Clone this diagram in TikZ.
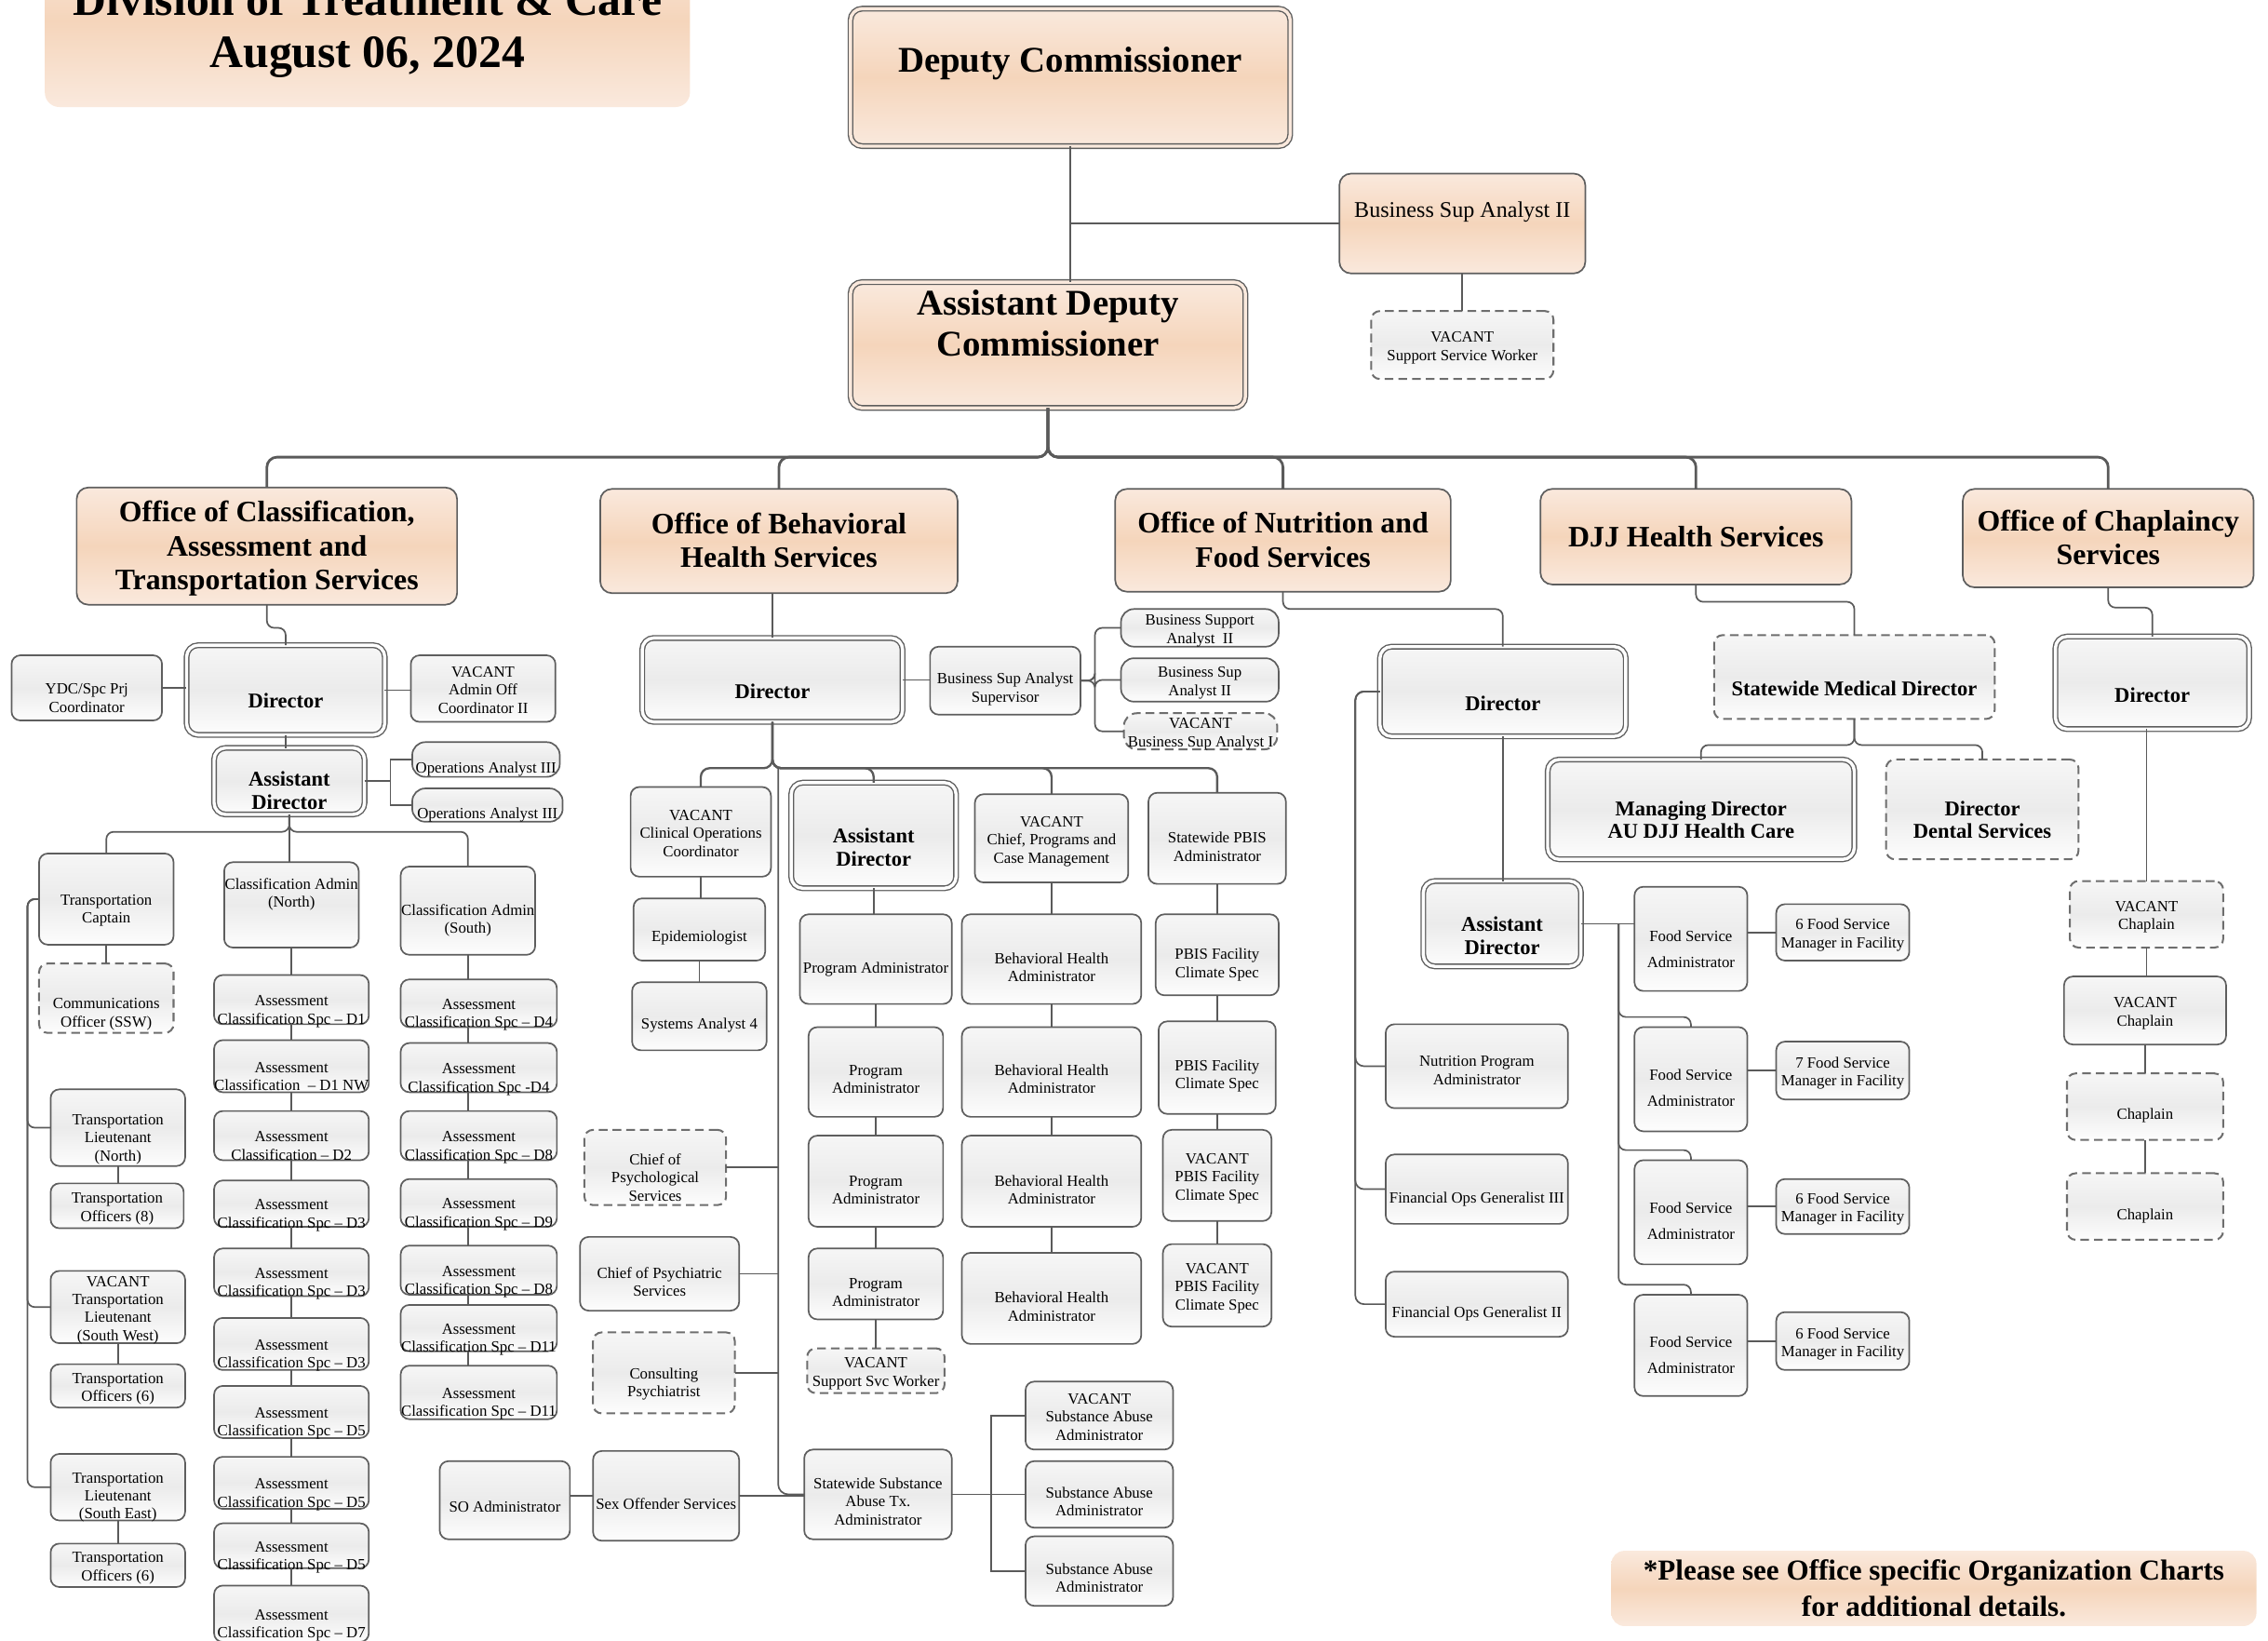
\documentclass[tikz,border=0pt]{standalone}
\usepackage{fontspec}
\setmainfont{Liberation Serif}
\usetikzlibrary{calc}
\definecolor{bordC}{HTML}{5E5E5E}
\definecolor{lineC}{HTML}{5A5A5A}
\definecolor{dashC}{HTML}{6E6E6E}
\definecolor{pkL}{HTML}{FAE9DD}
\definecolor{pkM}{HTML}{F5D5BB}
\definecolor{gT}{HTML}{F6F6F6}
\definecolor{gM}{HTML}{EBEBEB}
\definecolor{gB}{HTML}{FDFDFD}
\newcommand\tx[2]{\raisebox{\dimexpr -#1pt - 2pt\relax}[\height][\depth]{\makebox[0pt]{\begin{tabular}{@{}c@{}}#2\end{tabular}}}}
\newcommand\bx[8]{\node[#1, minimum width={(#5)-(#3)}, minimum height={(#6)-(#4)}] (#2) at ({((#3)+(#5))/2},{((#4)+(#6))/2}) {\tx{#7}{#8}};}
\tikzset{
 box/.style={draw=bordC, line width=1.1pt, rounded corners=6pt, inner sep=0pt, outer sep=0pt},
 gb/.style={box, top color=gT, bottom color=gB, middle color=gM},
 pb/.style={box, top color=pkL, bottom color=pkL, middle color=pkM},
 dbl/.style={double=white, double distance=2.2pt, line width=0.9pt, rounded corners=8pt},
 dsh/.style={draw=dashC, line width=1.3pt, dash pattern=on 6pt off 3.5pt},
 fa/.style={font=\fontsize{10.8}{12.5}\selectfont},
 ff/.style={font=\fontsize{10.8}{18}\selectfont},
 fb/.style={font=\bfseries\fontsize{14.5}{16}\selectfont},
 fo/.style={font=\bfseries\fontsize{20.5}{23.5}\selectfont},
 fdc/.style={font=\bfseries\fontsize{25}{28}\selectfont},
 ln/.style={draw=lineC, line width=1.1pt},
 bus/.style={draw=lineC, line width=1.8pt, rounded corners=7pt},
 bustwo/.style={draw=lineC, line width=1.5pt, rounded corners=6pt},
}
\begin{document}
\begin{tikzpicture}[x=1pt,y=-1pt]
\useasboundingbox (0,0) rectangle (1568,1134);
\clip (0,0) rectangle (1568,1134);
% ---------- top ----------
\bx{pb,draw=none,rounded corners=10pt,font=\bfseries\fontsize{32}{36}\selectfont}{title}{31}{-45}{477}{74}{5}{Division of Treatment \& Care\\August 06, 2024}
\bx{pb,dbl,double=pkL,fdc}{dc}{588}{6}{892}{101}{-11}{Deputy Commissioner}
\bx{pb,rounded corners=8pt,font=\fontsize{15.5}{18}\selectfont}{bsa}{926}{120}{1096}{189}{-10}{Business Sup Analyst II}
\bx{gb,dsh,fa}{vssw}{948}{215}{1074}{262}{0}{VACANT\\Support Service Worker}
\bx{pb,dbl,double=pkL,fdc}{adc}{588}{195}{861}{282}{-14}{Assistant Deputy\\Commissioner}
% ---------- offices ----------
\bx{pb,fo,rounded corners=8pt}{oc}{53}{337}{316}{418}{0}{Office of Classification,\\Assessment and\\Transportation Services}
\bx{pb,fo,rounded corners=8pt}{obh}{415}{338}{662}{410}{0}{Office of Behavioral\\Health Services}
\bx{pb,fo,rounded corners=8pt}{onf}{771}{338}{1003}{409}{0}{Office of Nutrition and\\Food Services}
\bx{pb,fo,rounded corners=8pt}{djj}{1065}{338}{1280}{404}{0}{DJJ Health Services}
\bx{pb,fo,rounded corners=8pt}{och}{1357}{338}{1558}{406}{0}{Office of Chaplaincy\\Services}
% ---------- classification ----------
\bx{gb,dbl,fb}{ocdir}{129}{446}{266}{508}{7}{Director}
\bx{gb,fa}{ydc}{8}{453}{112}{498}{6}{YDC/Spc Prj\\Coordinator}
\bx{gb,fa}{vaoc}{284}{453}{384}{499}{0}{VACANT\\Admin Off\\Coordinator II}
\bx{gb,dbl,fb}{ocad}{148}{517}{252}{563}{6}{Assistant\\Director}
\bx{gb,fa,rounded corners=9pt}{opa1}{285}{513}{387}{537}{5}{Operations Analyst III}
\bx{gb,fa,rounded corners=9pt}{opa2}{285}{545}{389}{568}{5}{Operations Analyst III}
\bx{gb,fa}{tc}{27}{590}{120}{653}{6}{Transportation\\Captain}
\bx{gb,dsh,fa}{co}{27}{666}{120}{714}{9}{Communications\\Officer (SSW)}
\bx{gb,fa}{can}{155}{596}{248}{655}{-9}{Classification Admin\\(North)}
\bx{gb,fa}{cas}{277}{599}{370}{660}{5}{Classification Admin\\(South)}
\bx{gb,fa}{a1}{148}{674}{255}{708}{6}{Assessment\\Classification Spc -- D1}
\bx{gb,fa}{a2}{148}{719}{255}{755}{6}{Assessment\\Classification ~-- D1 NW}
\bx{gb,fa}{a3}{148}{768}{255}{802}{6}{Assessment\\Classification -- D2}
\bx{gb,fa}{a4}{148}{816}{255}{848}{6}{Assessment\\Classification Spc -- D3}
\bx{gb,fa}{a5}{148}{863}{255}{896}{6}{Assessment\\Classification Spc -- D3}
\bx{gb,fa}{a6}{148}{911}{255}{947}{6}{Assessment\\Classification Spc -- D3}
\bx{gb,fa}{a7}{148}{958}{255}{994}{6}{Assessment\\Classification Spc -- D5}
\bx{gb,fa}{a8}{148}{1007}{255}{1043}{6}{Assessment\\Classification Spc -- D5}
\bx{gb,fa}{a9}{148}{1053}{255}{1084}{6}{Assessment\\Classification Spc -- D5}
\bx{gb,fa}{a10}{148}{1096}{255}{1135}{6}{Assessment\\Classification Spc -- D7}
\bx{gb,fa}{s1}{277}{677}{385}{710}{6}{Assessment\\Classification Spc -- D4}
\bx{gb,fa}{s2}{277}{721}{385}{755}{6}{Assessment\\Classification Spc -D4}
\bx{gb,fa}{s3}{277}{768}{385}{802}{6}{Assessment\\Classification Spc -- D8}
\bx{gb,fa}{s4}{277}{815}{385}{848}{6}{Assessment\\Classification Spc -- D9}
\bx{gb,fa}{s5}{277}{861}{385}{895}{6}{Assessment\\Classification Spc -- D8}
\bx{gb,fa}{s6}{277}{902}{385}{934}{6}{Assessment\\Classification Spc -- D11}
\bx{gb,fa}{s7}{277}{944}{385}{981}{6}{Assessment\\Classification Spc -- D11}
\bx{gb,fa}{tln}{35}{753}{128}{806}{6}{Transportation\\Lieutenant\\(North)}
\bx{gb,fa}{to8}{35}{818}{127}{849}{0}{Transportation\\Officers (8)}
\bx{gb,fa}{tlsw}{35}{880}{128}{927}{0}{VACANT\\Transportation\\Lieutenant\\(South West)}
\bx{gb,fa}{to6a}{35}{943}{128}{973}{0}{Transportation\\Officers (6)}
\bx{gb,fa}{tlse}{35}{1005}{128}{1051}{5}{Transportation\\Lieutenant\\(South East)}
\bx{gb,fa}{to6b}{35}{1067}{128}{1097}{0}{Transportation\\Officers (6)}
% ---------- behavioral ----------
\bx{gb,dbl,fb}{bhdir}{444}{441}{624}{499}{8}{Director}
\bx{gb,fa}{bsas}{643}{447}{747}{494}{4}{Business Sup Analyst\\Supervisor}
\bx{gb,fa,rounded corners=9pt}{bsa2a}{775}{421}{884}{447}{0}{Business Support\\Analyst ~II}
\bx{gb,fa,rounded corners=9pt}{bsa2b}{775}{455}{884}{485}{0}{Business Sup\\Analyst II}
\bx{gb,dsh,fa,rounded corners=9pt}{vbsa1}{777}{493}{883}{518}{0}{VACANT\\Business Sup Analyst I}
\bx{gb,fa}{vcoc}{436}{544}{533}{606}{0}{VACANT\\Clinical Operations\\Coordinator}
\bx{gb,fa}{epi}{438}{621}{529}{664}{4}{Epidemiologist}
\bx{gb,fa}{sa4}{437}{679}{530}{726}{4}{Systems Analyst 4}
\bx{gb,dbl,fb}{bhad}{547}{541}{661}{614}{8}{Assistant\\Director}
\bx{gb,fa}{pa1}{553}{632}{658}{694}{5}{Program Administrator}
\bx{gb,fa}{pa2}{559}{710}{652}{772}{4}{Program\\Administrator}
\bx{gb,fa}{pa3}{559}{785}{652}{848}{5}{Program\\Administrator}
\bx{gb,fa}{pa4}{559}{863}{652}{912}{5}{Program\\Administrator}
\bx{gb,dsh,fa}{vssw2}{558}{932}{653}{963}{0}{VACANT\\Support Svc Worker}
\bx{gb,fa}{vcpc}{674}{549}{780}{610}{0}{VACANT\\Chief, Programs and\\Case Management}
\bx{gb,fa}{bha1}{665}{632}{789}{694}{5}{Behavioral Health\\Administrator}
\bx{gb,fa}{bha2}{665}{710}{789}{772}{4}{Behavioral Health\\Administrator}
\bx{gb,fa}{bha3}{665}{785}{789}{848}{5}{Behavioral Health\\Administrator}
\bx{gb,fa}{bha4}{665}{866}{789}{929}{5}{Behavioral Health\\Administrator}
\bx{gb,fa}{spbis}{794}{548}{889}{611}{5}{Statewide PBIS\\Administrator}
\bx{gb,fa}{pf1}{799}{632}{884}{688}{5}{PBIS Facility\\Climate Spec}
\bx{gb,fa}{pf2}{801}{706}{882}{770}{4}{PBIS Facility\\Climate Spec}
\bx{gb,fa}{pf3}{804}{781}{879}{844}{0}{VACANT\\PBIS Facility\\Climate Spec}
\bx{gb,fa}{pf4}{804}{860}{879}{917}{0}{VACANT\\PBIS Facility\\Climate Spec}
\bx{gb,dsh,fa}{cps}{404}{781}{502}{833}{6}{Chief of\\Psychological\\Services}
\bx{gb,fa}{cpsy}{401}{855}{511}{906}{5}{Chief of Psychiatric\\Services}
\bx{gb,dsh,fa}{cp}{410}{921}{508}{977}{6}{Consulting\\Psychiatrist}
\bx{gb,fa}{sos}{410}{1003}{511}{1065}{5}{Sex Offender Services}
\bx{gb,fa}{soa}{304}{1010}{394}{1064}{4}{SO Administrator}
\bx{gb,fa}{ssat}{556}{1002}{658}{1064}{4}{Statewide Substance\\Abuse Tx.\\Administrator}
\bx{gb,fa}{vsaa}{709}{955}{811}{1002}{0}{VACANT\\Substance Abuse\\Administrator}
\bx{gb,fa}{saa1}{709}{1010}{811}{1056}{4}{Substance Abuse\\Administrator}
\bx{gb,fa}{saa2}{709}{1062}{811}{1110}{4}{Substance Abuse\\Administrator}
% ---------- nutrition ----------
\bx{gb,dbl,fb}{ofdir}{954}{447}{1124}{509}{8}{Director}
\bx{gb,fa}{npa}{958}{708}{1084}{766}{2}{Nutrition Program\\Administrator}
\bx{gb,fa}{fog3}{958}{798}{1084}{846}{5}{Financial Ops Generalist III}
\bx{gb,fa}{fog2}{958}{879}{1084}{924}{5}{Financial Ops Generalist II}
\bx{gb,dbl,fb}{ofad}{984}{609}{1093}{668}{8}{Assistant\\Director}
\bx{gb,ff}{fsa1}{1130}{613}{1208}{685}{5}{Food Service\\Administrator}
\bx{gb,ff}{fsa2}{1130}{710}{1208}{782}{4}{Food Service\\Administrator}
\bx{gb,ff}{fsa3}{1130}{802}{1208}{874}{4}{Food Service\\Administrator}
\bx{gb,ff}{fsa4}{1130}{895}{1208}{965}{5}{Food Service\\Administrator}
\bx{gb,fa}{fsm1}{1228}{625}{1320}{664}{0}{6 Food Service\\Manager in Facility}
\bx{gb,fa}{fsm2}{1228}{720}{1320}{760}{0}{7 Food Service\\Manager in Facility}
\bx{gb,fa}{fsm3}{1228}{815}{1320}{853}{0}{6 Food Service\\Manager in Facility}
\bx{gb,fa}{fsm4}{1228}{907}{1320}{947}{0}{6 Food Service\\Manager in Facility}
% ---------- DJJ health ----------
\bx{gb,dsh,fb}{smd}{1185}{439}{1379}{497}{8}{Statewide Medical Director}
\bx{gb,dbl,fb}{mdir}{1070}{525}{1282}{594}{7}{Managing Director\\AU DJJ Health Care}
\bx{gb,dsh,fb}{dds}{1304}{525}{1437}{594}{7}{Director\\Dental Services}
% ---------- chaplaincy ----------
\bx{gb,dbl,fb}{chdir}{1421}{440}{1555}{504}{8}{Director}
\bx{gb,dsh,fa}{vch1}{1431}{609}{1537}{655}{0}{VACANT\\Chaplain}
\bx{gb,fa}{vch2}{1427}{675}{1539}{722}{0}{VACANT\\Chaplain}
\bx{gb,dsh,fa}{ch1}{1429}{742}{1537}{788}{4}{Chaplain}
\bx{gb,dsh,fa}{ch2}{1429}{811}{1537}{857}{5}{Chaplain}
% ---------- note ----------
\bx{pb,draw=none,rounded corners=9pt,font=\bfseries\fontsize{20}{25}\selectfont}{note}{1114}{1072}{1560}{1124}{0}{*Please see Office specific Organization Charts\\for additional details.}

% ================= connectors =================
\draw[ln] (dc.south) -- (dc.south |- adc.north);
\draw[ln] (dc.south |- bsa.west) -- (bsa.west);
\draw[ln] (bsa.south) -- (vssw.north);
\coordinate (busA) at (724,316);
\foreach \o in {oc,obh,onf,djj,och} \draw[bus] (adc.south) |- (\o.north |- busA) -- (\o.north);
% classification
\draw[ln, rounded corners=5pt] (oc.south) |- ($(ocdir.north)+(0,-12)$) -- (ocdir.north);
\draw[ln] (ydc.east) -- (ydc.east -| ocdir.west);
\draw[ln] (ocdir.east) -- (ocdir.east -| vaoc.west);
\draw[ln] (ocdir.south) -- (ocdir.south |- ocad.north);
\draw[ln] (ocad.east) -- ($(ocad.east -| opa1.west)+(-15,0)$);
\draw[ln] (opa1.west) -- ++(-15,0) |- (opa2.west);
\draw[ln, rounded corners=5pt] (ocad.south) |- ($(tc.north)+(0,-15)$) -- (tc.north);
\draw[ln] (ocad.south) -- (ocad.south |- can.north);
\draw[ln, rounded corners=5pt] (ocad.south) |- ($(cas.north)+(0,-24)$) -- (cas.north);
\draw[ln] (tc.south) -- (co.north);
\foreach \t in {tln,tlsw,tlse} \draw[ln, rounded corners=5pt] (tc.west) -- ++(-8,0) |- (\t.west);
\foreach \p/\q in {tln/to8,tlsw/to6a,tlse/to6b} \draw[ln] (\p.south) -- (\p.south |- \q.north);
\foreach \p/\q in {can/a1,a1/a2,a2/a3,a3/a4,a4/a5,a5/a6,a6/a7,a7/a8,a8/a9,a9/a10} \draw[ln] (\p.south) -- (\p.south |- \q.north);
\draw[ln] (cas.south) -- (cas.south |- s1.north);
\foreach \p/\q in {s1/s2,s2/s3,s3/s4,s4/s5,s5/s6,s6/s7} \draw[ln] (\p.south -| cas.south) -- (\q.north -| cas.south);
% behavioral
\draw[ln] (bhdir.north |- obh.south) -- (bhdir.north);
\draw[ln] (bhdir.east) -- (bhdir.east -| bsas.west);
\foreach \b in {bsa2a,bsa2b,vbsa1} \draw[ln, rounded corners=5pt] (bsas.east) -- ++(10,0) |- (\b.west);
\coordinate (bhbus) at (534,531);
\foreach \b in {vcoc,bhad,vcpc,spbis} \draw[bustwo] (bhdir.south) |- (\b.north |- bhbus) -- (\b.north);
\coordinate (bhsp) at (538,531);
\draw[ln, rounded corners=7pt] (bhsp) |- (ssat.west);
\draw[ln] (sos.east) -- (sos.east -| ssat.west);
\foreach \b in {cps,cpsy,cp} \draw[ln] (\b.east) -- (\b.east -| bhsp);
\draw[ln] (sos.west) -- (sos.west -| soa.east);
\foreach \p/\q in {vcoc/epi,epi/sa4,bhad/pa1,pa1/pa2,pa2/pa3,pa3/pa4,pa4/vssw2,vcpc/bha1,bha1/bha2,bha2/bha3,bha3/bha4,spbis/pf1,pf1/pf2,pf2/pf3,pf3/pf4} \draw[ln] (\p.south) -- (\p.south |- \q.north);
\foreach \b in {vsaa,saa1,saa2} \draw[ln] (ssat.east) -- ++(27,0) |- (\b.west);
% nutrition
\draw[ln, rounded corners=5pt] (onf.south) |- ($(ofdir.north)+(0,-26)$) -- (ofdir.north);
\foreach \b in {npa,fog3,fog2} \draw[ln, rounded corners=6pt] (ofdir.west) -- ++(-17,0) |- (\b.west);
\draw[ln] (ofdir.south) -- (ofdir.south |- ofad.north);
\draw[ln] (ofad.east) -- (ofad.east -| fsa1.west);
\coordinate (fsp) at ($(ofad.east)+(26,0)$);
\foreach \b in {fsa2,fsa3,fsa4} \draw[ln, rounded corners=5pt] (fsp) |- ($(\b.north)+(0,-7)$) -- (\b.north);
\foreach \a/\m in {fsa1/fsm1,fsa2/fsm2,fsa3/fsm3,fsa4/fsm4} \draw[ln] (\m.west -| \a.east) -- (\m.west);
% DJJ health
\draw[ln, rounded corners=5pt] (djj.south) |- ($(smd.north)+(0,-23)$) -- (smd.north);
\draw[ln, rounded corners=5pt] (smd.south) |- ($(mdir.north)+(0,-10)$) -- (mdir.north);
\draw[ln, rounded corners=5pt] (smd.south) |- ($(dds.north)+(0,-10)$) -- (dds.north);
% chaplaincy
\draw[ln, rounded corners=5pt] (och.south) |- ($(chdir.north)+(0,-20)$) -- (chdir.north);
\draw[ln] (vch1.north |- chdir.south) -- (vch1.north);
\foreach \p/\q in {vch1/vch2,vch2/ch1,ch1/ch2} \draw[ln] (\p.south) -- (\p.south |- \q.north);
\end{tikzpicture}
\end{document}
